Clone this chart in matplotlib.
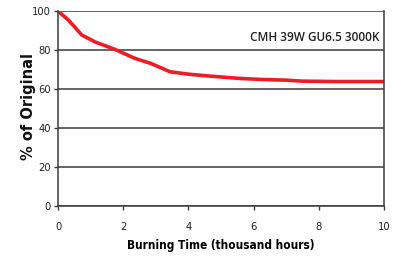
import matplotlib
matplotlib.use('Agg')
import matplotlib.pyplot as plt

# lumen maintenance
hours = [0, 0.32, 0.73, 1.13, 1.75, 2.36, 2.85, 3.44, 4.05, 4.66, 5.58, 6.2, 7.0, 7.5, 8.5, 10.0]
pct = [100, 95.4, 87.7, 84.2, 80.3, 75.7, 73.1, 68.8, 67.5, 66.6, 65.4, 64.9, 64.5, 64.0, 63.8, 63.8]

xticks = [0, 2, 4, 6, 8, 10]
yticks = [0, 20, 40, 60, 80, 100]

fig = plt.figure(figsize=(4.1, 2.58), dpi=100)
ax = fig.add_axes([0.1415, 0.2027, 0.795, 0.7543])

ax.plot(hours, pct, color='#ee1c24', lw=2.6, solid_capstyle='round',
        solid_joinstyle='round')

ax.set_xlim(0, 10)
ax.set_ylim(0, 100)
ax.set_xticks(xticks)
ax.set_yticks(yticks)
ax.yaxis.grid(True, color='#3a3a3a', lw=1.1)
ax.set_axisbelow(True)
for s in ax.spines.values():
    s.set_color('#3a3a3a')
    s.set_linewidth(1.1)
ax.spines['top'].set_visible(False)

ax.tick_params(axis='both', length=3, width=1, color='#3a3a3a',
               labelsize=8, labelcolor='#222222')
ax.tick_params(axis='x', pad=9)
ax.tick_params(axis='y', pad=2)
for lab in ax.get_xticklabels() + ax.get_yticklabels():
    lab.set_fontstretch('condensed')

ax.text(9.85, 86.5, 'CMH 39W GU6.5 3000K', ha='right', va='center',
        fontsize=8.5, color='#222222', family='Open Sans', fontweight='semibold')

ax.set_xlabel('Burning Time (thousand hours)', fontsize=8.5, fontweight='bold',
              fontstretch='condensed', labelpad=5)
ax.text(-0.09, 0.51, '% of Original', transform=ax.transAxes, rotation=90,
        ha='center', va='center', fontsize=10.5, fontweight='bold', color='#111111')

fig.savefig('out.png', dpi=100)
